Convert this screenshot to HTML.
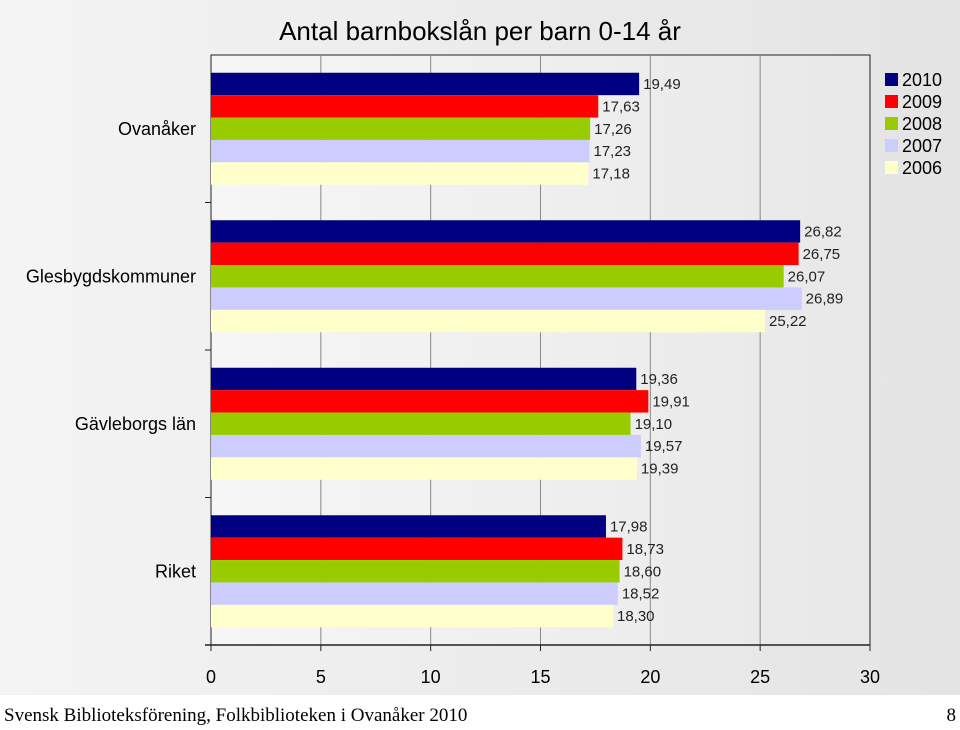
<!DOCTYPE html>
<html><head><meta charset="utf-8"><style>
body{margin:0;width:960px;height:725px;overflow:hidden;background:#fff;font-family:"Liberation Sans",Arial,sans-serif}
</style></head><body>
<svg id="c" width="960" height="725" xmlns="http://www.w3.org/2000/svg">
<defs>
<linearGradient id="bg" x1="0" x2="1"><stop offset="0" stop-color="#f4f4f4"/><stop offset="1" stop-color="#e4e4e4"/></linearGradient>
<linearGradient id="pg" x1="0" x2="1"><stop offset="0" stop-color="#f6f6f6"/><stop offset="1" stop-color="#e8e8e8"/></linearGradient>
</defs>
<rect x="0" y="0" width="960" height="695" fill="url(#bg)"/>
<rect x="211" y="55" width="659" height="590" fill="url(#pg)" stroke="#222" stroke-width="1"/>
<text x="480" y="40" text-anchor="middle" font-size="26" fill="#000">Antal barnbokslån per barn 0-14 år</text>
<g id="grid"></g><g id="bars"></g><g id="axis"></g><g id="legend"></g>
<text x="4" y="721" font-family="Liberation Serif,serif" font-size="19" fill="#000">Svensk Biblioteksförening, Folkbiblioteken i Ovanåker 2010</text>
<text x="956" y="721" text-anchor="end" font-family="Liberation Serif,serif" font-size="19" fill="#000">8</text>
</svg>
<script>
const categories=["Ovanåker","Glesbygdskommuner","Gävleborgs län","Riket"];
const seriesNames=["2010","2009","2008","2007","2006"];
const colors=["#000080","#ff0000","#99cc00","#ccccff","#ffffcc"];
const v2010=[19.49,26.82,19.36,17.98];
const v2009=[17.63,26.75,19.91,18.73];
const v2008=[17.26,26.07,19.10,18.60];
const v2007=[17.23,26.89,19.57,18.52];
const v2006=[17.18,25.22,19.39,18.30];
const ticks=[0,5,10,15,20,25,30];
const series=[v2010,v2009,v2008,v2007,v2006];
const NS="http://www.w3.org/2000/svg";
const L=211,R=870,T=55,B=645,xmax=30;
const x=v=>L+(R-L)*v/xmax;
const gh=(B-T)/categories.length, bh=22.4, pad=(gh-bh*5)/2;
function mk(tag,attrs,parent,txt){const e=document.createElementNS(NS,tag);for(const k in attrs)e.setAttribute(k,attrs[k]);if(txt!==undefined)e.textContent=txt;document.getElementById(parent).appendChild(e);return e;}
ticks.forEach((t,i)=>{
  if(i>0&&i<ticks.length-1){const g=mk('line',{x1:x(t),x2:x(t),y1:T,y2:B,stroke:'#888','stroke-width':1},'grid');
  
  }
  const tk=mk('line',{x1:x(t),x2:x(t),y1:B,y2:B+6,stroke:'#222'},'axis');
  
  
  const lb=mk('text',{x:x(t),y:B+38,'text-anchor':'middle','font-size':18,fill:'#000'},'axis',String(t));
  
  
});
mk('line',{x1:L-6,x2:R,y1:B,y2:B,stroke:'#222','stroke-width':1.5},'axis');
categories.forEach((c,ci)=>{
  const y0=T+gh*ci;
  const tk=mk('line',{x1:L-6,x2:L,y1:y0+gh,y2:y0+gh,stroke:'#222'},'axis');
  
  
  const cl=mk('text',{x:196,y:y0+gh/2+6,'text-anchor':'end','font-size':18,fill:'#000'},'axis',c);
  
  
  series.forEach((s,si)=>{
    const by=y0+pad+si*bh;
    const r=mk('rect',{x:L,y:by,width:x(s[ci])-L,height:bh,fill:colors[si]},'bars');
    
    
    const t=mk('text',{x:x(s[ci])+4,y:by+bh/2+5,'font-size':15,fill:'#222'},'bars',s[ci].toFixed(2).replace('.',','));
    
    
  });
});
seriesNames.forEach((n,i)=>{
  const y=71+i*22;
  const s=mk('rect',{x:885,y:y+2,width:13,height:13,fill:colors[i]},'legend');
  
  
  const t=mk('text',{x:902,y:y+15,'font-size':18,fill:'#000'},'legend',n);
  
  
});
</script>
</body></html>
